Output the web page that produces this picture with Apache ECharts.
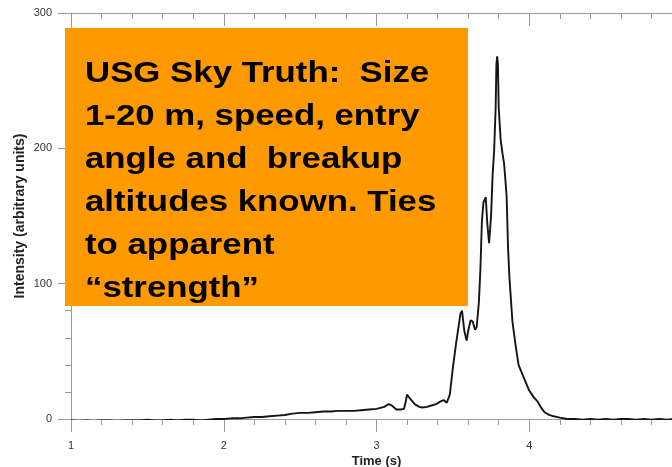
<!DOCTYPE html>
<html>
<head>
<meta charset="utf-8">
<script src="https://cdn.jsdelivr.net/npm/echarts@6/dist/echarts.min.js"></script>
<style>
html,body{margin:0;padding:0;background:#fff;overflow:hidden;}
#chart{width:672px;height:467px;}
</style>
</head>
<body>
<div id="chart"></div>
<script>
// Time (s)
var times = [
  1.00,1.05,1.10,1.15,1.20,1.25,1.30,1.35,1.40,1.45,1.50,1.55,1.60,1.65,1.70,1.75,1.80,1.85,1.90,1.95,
  2.00,2.05,2.10,2.15,2.20,2.25,2.30,2.35,2.40,2.45,2.50,2.55,2.60,2.65,2.70,2.75,2.80,2.85,2.90,2.95,
  3.00,3.05,3.08,3.10,3.13,3.16,3.18,3.19,3.20,3.22,3.25,3.28,3.30,3.33,3.36,3.39,3.42,3.44,3.46,3.47,
  3.48,3.50,3.52,3.55,3.56,3.575,3.59,3.60,3.616,3.63,3.645,3.656,3.67,3.68,3.69,3.70,3.715,3.725,3.737,3.75,
  3.76,3.77,3.78,3.785,3.79,3.795,3.80,3.813,3.825,3.835,3.845,3.852,3.861,3.87,3.879,3.89,3.91,3.93,3.966,4.00,
  4.03,4.054,4.08,4.10,4.13,4.16,4.20,4.25,4.30,4.35,4.40,4.45,4.50,4.55,4.60,4.65,4.70,4.75,4.80,4.85,4.90,4.95,5.00
];
// Intensity (arbitrary units)
var intensity = [
  -1,-1.5,-1,-1.5,-1,-1,-1.5,-1,-1,-1,-0.5,-1,-1,-0.5,-1,-0.5,-0.5,-1,-0.5,0,
  0,0.5,0.5,1,1.5,1.5,2,2.5,3,4,4.5,4.5,5,5.5,5.5,6,6,6,6.5,7,
  7.5,9,11,10,7,7,7.5,12,18,15,11,9,8.5,9,10,11,13,14,12,12,
  18,38,55,78,80,65,58,65,73,72,66,68,86,110,146,160,164,145,130,150,
  180,198,230,262,268,262,230,206,196,189,175,164,127,105,90,72,55,40,30,21,
  16,13,8,5,3,2,1,0,0,-0.5,0,-0.5,0,-0.5,0,0,-0.5,0,-0.5,0,-0.5,0,0
];
var xTicks = [1, 2, 3, 4, 5];
var yTicks = [0, 100, 200, 300];
var boxLines = [
  "USG Sky Truth:  Size",
  "1-20 m, speed, entry",
  "angle and  breakup",
  "altitudes known. Ties",
  "to apparent",
  "\u201Cstrength\u201D"
];

var pts = times.map(function (t, i) { return [t, intensity[i]]; });
var chart = echarts.init(document.getElementById('chart'), null, {renderer: 'canvas'});
var axisGray = '#9a9a9a';
var textEls = boxLines.map(function (s, i) {
  return {
    type: 'text', x: 85, y: 59 + i * 43, scaleX: 1.16, z: 101,
    style: {text: s, fill: '#000', font: 'bold 30px "Liberation Sans", Arial, sans-serif'}
  };
});
chart.setOption({
  animation: false,
  grid: {left: 71, top: 13, width: 611, height: 406, containLabel: false, outerBoundsMode: 'none'},
  xAxis: [{
    type: 'value', position: 'bottom', min: xTicks[0], max: xTicks[xTicks.length - 1], interval: 1,
    name: 'Time (s)', nameLocation: 'middle', nameGap: 36, nameMoveOverlap: false,
    nameTextStyle: {color: '#222', fontSize: 13, fontWeight: 'bold', fontFamily: 'Liberation Sans, Arial'},
    axisLine: {onZero: false, lineStyle: {color: axisGray, width: 1}},
    axisTick: {inside: false, length: 13, lineStyle: {color: axisGray}},
    minorTick: {show: true, splitNumber: 5, length: 6, lineStyle: {color: axisGray}},
    axisLabel: {color: '#333', fontSize: 11, margin: 21, fontFamily: 'Liberation Sans, Arial'},
    splitLine: {show: false}
  }, {
    type: 'value', position: 'top', min: xTicks[0], max: xTicks[xTicks.length - 1], interval: 1,
    axisLine: {onZero: false, lineStyle: {color: axisGray, width: 1}},
    axisTick: {inside: true, length: 13, lineStyle: {color: axisGray}},
    minorTick: {show: true, splitNumber: 5, length: 6, lineStyle: {color: axisGray}},
    axisLabel: {show: false},
    splitLine: {show: false}
  }],
  yAxis: {
    type: 'value', min: yTicks[0], max: yTicks[yTicks.length - 1], interval: 100,
    name: 'Intensity (arbitrary units)', nameLocation: 'middle', nameGap: 44, nameMoveOverlap: false,
    nameTextStyle: {color: '#222', fontSize: 14, fontWeight: 'bold', fontFamily: 'Liberation Sans, Arial'},
    axisLine: {show: true, onZero: false, lineStyle: {color: axisGray, width: 1}},
    axisTick: {inside: false, length: 13, lineStyle: {color: axisGray}},
    minorTick: {show: true, splitNumber: 5, length: 6, lineStyle: {color: axisGray}},
    axisLabel: {color: '#333', fontSize: 11, margin: 19, fontFamily: 'Liberation Sans, Arial'},
    splitLine: {show: false}
  },
  series: [{
    type: 'line', xAxisIndex: 0, data: pts, showSymbol: false, symbol: 'none',
    lineStyle: {color: '#151515', width: 1.9}, clip: true, z: 5
  }],
  graphic: [{
    type: 'rect', shape: {x: 65, y: 28, width: 403, height: 278}, z: 100,
    style: {fill: '#FF9900'}
  }].concat(textEls)
});
</script>
</body>
</html>
